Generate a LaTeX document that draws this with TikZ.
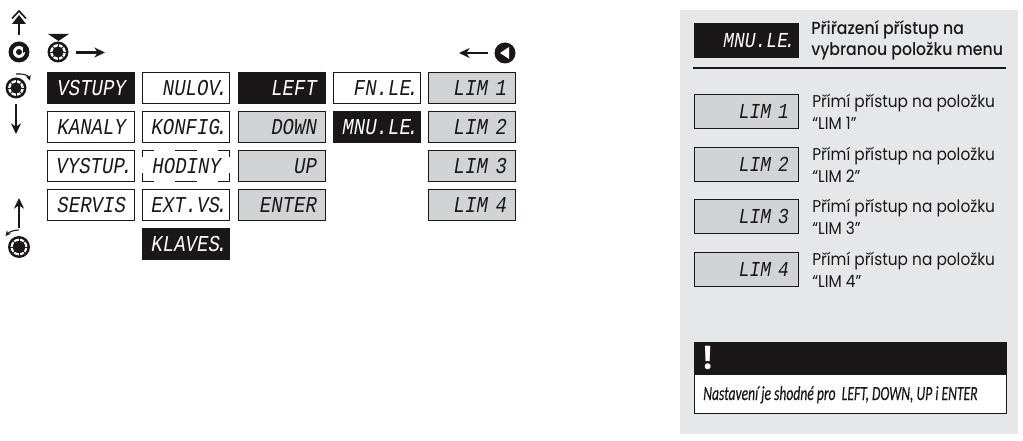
\documentclass[tikz,border=0pt]{standalone}
\usepackage{fontspec}
\setmainfont[FakeStretch=0.9]{Poppins}
\newfontfamily\headfont[FakeStretch=0.9]{Poppins Medium}
\newfontfamily\lcdfont[FakeStretch=0.84]{Liberation Mono}
\newfontfamily\condfont[FakeStretch=0.68,FakeBold=0.3]{Carlito}
\usetikzlibrary{arrows.meta}
\definecolor{lcdgray}{HTML}{D1D3D4}
\definecolor{panelgray}{HTML}{E6E7E8}
\definecolor{ink}{HTML}{1A1718}
\newcommand{\dt}{\makebox[3pt]{.}\hspace*{1.5pt}}
\newcommand{\nd}{\hspace*{3.75pt}}
\tikzset{
  lcdbase/.style={inner xsep=2.25pt,inner ysep=0pt,minimum height=23.25pt,text width=60.75pt,align=right,
    text height=11pt,text depth=0pt,font=\lcdfont\itshape\fontsize{17}{17}\selectfont,line width=.75pt},
  lcdw/.style={lcdbase,draw=ink,fill=white,text=ink},
  lcdk/.style={lcdbase,draw=ink,fill=ink,text=white},
  lcdg/.style={lcdbase,draw=ink,fill=lcdgray,text=ink},
  lcdbare/.style={lcdbase,text=ink},
  bigbox/.style={minimum height=25.5pt,text width=72pt,inner xsep=3pt,text height=10.5pt,font=\lcdfont\itshape\fontsize{16}{16}\selectfont},
  desc/.style={anchor=west,inner sep=0pt,align=left,text=ink,font=\fontsize{12.8}{16.6}\selectfont},
  arr/.style={draw=ink,line width=2pt,-{Stealth[length=8pt,width=7.5pt]}},
  curv/.style={draw=ink,line width=.8pt,-{Stealth[length=4pt,width=4pt]}},
}
\newcommand{\knob}[3]{%
  \fill[ink] (#1,#2) circle (#3);
  \fill[white] (#1,#2) circle ({#3-2.6});
  \fill[ink] (#1,#2) circle ({#3-5});
  \foreach \a in {0,45,...,315}
    \draw[ink,line width=.6pt] (#1,#2) -- ++(\a:{#3-2.4});
  \fill[ink] (#1,#2) circle ({#3-5});
}
\begin{document}
\begin{tikzpicture}[x=.75pt,y=-.75pt]
\useasboundingbox (0,0) rectangle (1023,441);
% display grid
\node[lcdk] (vstupy) at (90.5,88.5) {VSTUPY\nd};
\node[lcdw] (nulov) at (185.5,88.5) {NULOV\dt};
\node[lcdk] (left) at (281.5,88.5) {LEFT\nd};
\node[lcdw] (fnle) at (376.5,88.5) {FN.LE\dt};
\node[lcdg] (lim1) at (471.5,88.5) {LIM 1\nd};
\node[lcdw] (kanaly) at (90.5,127.5) {KANALY\nd};
\node[lcdw] (konfig) at (185.5,127.5) {KONFIG\dt};
\node[lcdg] (down) at (281.5,127.5) {DOWN\nd};
\node[lcdk] (mnule) at (376.5,127.5) {MNU.LE\dt};
\node[lcdg] (lim2) at (471.5,127.5) {LIM 2\nd};
\node[lcdw] (vystup) at (90.5,166.5) {VYSTUP\dt};
\node[lcdbare] (hodiny) at (185.5,166.5) {HODINY\nd};
\node[lcdg] (up) at (281.5,166.5) {UP\nd};
\node[lcdg] (lim3) at (471.5,166.5) {LIM 3\nd};
\node[lcdw] (servis) at (90.5,205.5) {SERVIS\nd};
\node[lcdw] (extvs) at (185.5,205.5) {EXT.VS\dt};
\node[lcdg] (enter) at (281.5,205.5) {ENTER\nd};
\node[lcdg] (lim4) at (471.5,205.5) {LIM 4\nd};
\node[lcdk] (klaves) at (185.5,244.5) {KLAVES\dt};
% broken frame of HODINY
\draw[ink,line width=.75pt]
  (154,151)--(142.5,151)--(142.5,157)
  (142.5,173)--(142.5,182)--(154,182)
  (175,151)--(197,151) (175,182)--(197,182)
  (218,151)--(229,151)--(229,157)
  (229,173)--(229,182)--(218,182);
% icons: left column
\draw[ink,line width=2.2pt] (19,35)--(19,17);
\fill[ink] (12,24)--(19,15)--(26,24)--cycle;
\draw[ink,line width=1.2pt] (12,18.5)--(19,11)--(26,18.5);
\fill[ink] (19,52) circle (10.5);
\fill[white] (19,52) circle (6);
\fill[ink] (19,52) circle (3);
\fill[ink] (23,48)--(27.5,50)--(23,53)--cycle;
\knob{16}{88}{10.5}
\draw[curv] (16,74) .. controls (23,73.5) and (28,75) .. (30,80.5);
\draw[arr] (16,104)--(16,134);
\draw[arr] (19,228)--(19,198);
\draw[curv] (19,230) .. controls (14,230) and (9,232) .. (5.5,236);
\knob{19}{247}{11}
% icons: top row
\fill[ink] (48,34)--(69,34)--(58.5,41)--cycle;
\knob{58}{52}{10.5}
\draw[arr] (76,52.5)--(105,52.5);
\draw[arr] (488,53)--(459,53);
\fill[ink] (505,53) circle (10.5);
\fill[white] (500,53)--(509,47)--(509,59)--cycle;
% side panel
\fill[panelgray] (680,10) rectangle (1018,434);
\node[lcdk,bigbox] (pmnule) at (746,40.5) {MNU.LE\dt};
\node[desc,font=\headfont\fontsize{13.1}{15.8}\selectfont] (phead) at (811,40) {Přiřazení přístup na\\vybranou položku menu};
\draw[ink,line width=1.3pt] (693,68)--(1006,68);
\node[lcdg,bigbox] (p1) at (746,111.5) {LIM 1\nd};
\node[desc] (t1) at (812,112) {Přímí přístup na položku\\“LIM 1”};
\node[lcdg,bigbox] (p2) at (746,164.5) {LIM 2\nd};
\node[desc] (t2) at (812,165) {Přímí přístup na položku\\“LIM 2”};
\node[lcdg,bigbox] (p3) at (746,216.5) {LIM 3\nd};
\node[desc] (t3) at (812,217) {Přímí přístup na položku\\“LIM 3”};
\node[lcdg,bigbox] (p4) at (746,269.5) {LIM 4\nd};
\node[desc] (t4) at (812,270) {Přímí přístup na položku\\“LIM 4”};
% note box
\draw[ink,fill=white,line width=.75pt] (694.5,374) rectangle (1006,413);
\fill[ink] (694,342) rectangle (1006.5,374);
\node[inner sep=0pt,text=white,font=\bfseries\fontsize{24}{24}\selectfont] (excl) at (708,358) {!};
\node[anchor=base west,inner sep=0pt,text=ink,font=\condfont\itshape\fontsize{15}{15}\selectfont] (note) at (703,400) {Nastavení je shodné pro\ \ LEFT, DOWN, UP i ENTER};
\end{tikzpicture}
\end{document}
